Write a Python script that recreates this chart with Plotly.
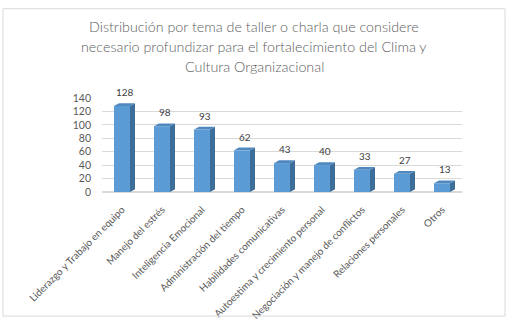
import plotly.graph_objects as go

categories = ["Liderazgo y Trabajo en equipo", "Manejo del estrés", "Inteligencia Emocional",
              "Administración del tiempo", "Habilidades comunicativas",
              "Autoestima y crecimiento personal", "Negociación y manejo de conflictos",
              "Relaciones personales", "Otros"]
values = [128, 98, 93, 62, 43, 40, 33, 27, 13]
y_ticks = [0, 20, 40, 60, 80, 100, 120, 140]

title_lines = ["Distribución por tema de taller o charla que considere",
               "necesario profundizar para el fortalecimiento del Clima y",
               "Cultura Organizacional"]

FRONT = "#5b9bd5"
SIDE = "#3d6d99"
TOP = "#4f87bf"

L, R, T, B = 102, 46, 98, 135
W, H = 508, 333
pw = W - L - R
ph = H - T - B
xr = (-0.5, 8.5)
yr = (0, 140)
ux = (xr[1] - xr[0]) / pw   # data units per px
uy = (yr[1] - yr[0]) / ph

def px_to_paper_x(px):
    return (px - L) / pw

def px_to_paper_y(py):
    return (T + ph - py) / ph

idx = list(range(len(categories)))
bw = 0.4
fig = go.Figure()
fig.add_trace(go.Bar(x=idx, y=values, width=bw, marker=dict(color=FRONT, line=dict(width=0)),
                     hoverinfo="skip"))

dx = 5 * ux
dy = 3 * uy
shapes = []
for i, v in zip(idx, values):
    x1 = i + bw / 2
    x0 = i - bw / 2
    shapes.append(dict(type="path", xref="x", yref="y",
                       path=f"M {x1},0 L {x1+dx},{dy} L {x1+dx},{v+dy} L {x1},{v} Z",
                       fillcolor=SIDE, line=dict(width=0), layer="above"))
    shapes.append(dict(type="path", xref="x", yref="y",
                       path=f"M {x0},{v} L {x0+dx},{v+dy} L {x1+dx},{v+dy} L {x1},{v} Z",
                       fillcolor=TOP, line=dict(width=0), layer="above"))

shapes.append(dict(type="rect", xref="paper", yref="paper",
                   x0=px_to_paper_x(3), x1=px_to_paper_x(505),
                   y0=px_to_paper_y(330), y1=px_to_paper_y(3),
                   line=dict(color="#d9d9d9", width=1), fillcolor="rgba(0,0,0,0)"))

annotations = []
for i, v in zip(idx, values):
    annotations.append(dict(x=i + dx / 2, y=v + dy, xref="x", yref="y", text=str(v),
                            showarrow=False, yanchor="bottom", yshift=3,
                            font=dict(size=10, color="#404040", family="Lato")))

for k, line in enumerate(title_lines):
    annotations.append(dict(x=px_to_paper_x(254), y=px_to_paper_y(22 + 21 * k),
                            xref="paper", yref="paper", text=line, showarrow=False,
                            xanchor="center", yanchor="middle",
                            font=dict(family="Lato", size=14.3, color="#606060", weight=300)))

fig.update_layout(
    width=W, height=H,
    margin=dict(l=L, r=R, t=T, b=B),
    paper_bgcolor="white", plot_bgcolor="white",
    xaxis=dict(range=list(xr), tickmode="array", tickvals=idx, ticktext=categories,
               tickangle=-45, showgrid=False, zeroline=False, showline=False, ticks="",
               ticklabelstandoff=9,
               tickfont=dict(family="Lato", size=10, color="#595959")),
    yaxis=dict(range=list(yr), tickvals=y_ticks, showgrid=True, gridcolor="#d9d9d9",
               gridwidth=1, zeroline=True, zerolinecolor="#d9d9d9", showline=False,
               ticks="", ticklabelstandoff=10,
               tickfont=dict(family="Lato", size=10.5, color="#595959")),
    shapes=shapes, annotations=annotations, showlegend=False,
)

fig.write_html("out.html")
